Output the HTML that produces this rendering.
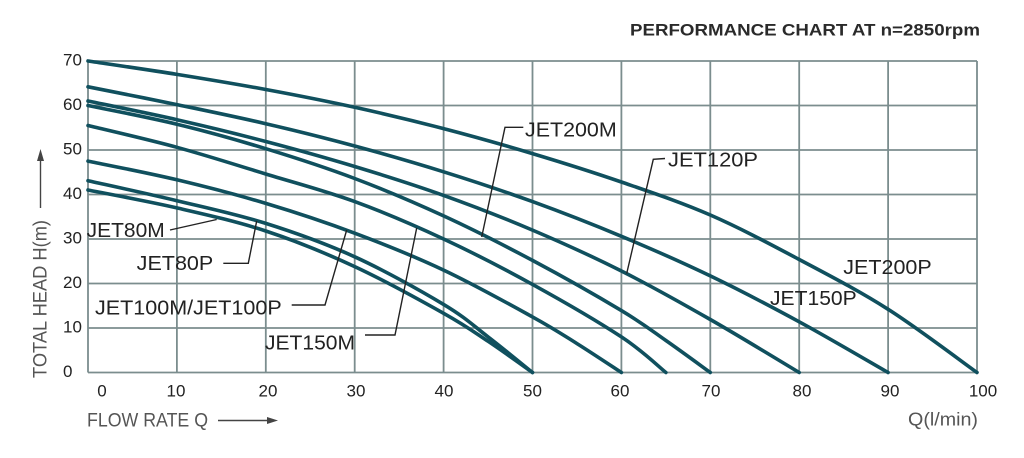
<!DOCTYPE html>
<html>
<head>
<meta charset="utf-8">
<style>
  html,body{margin:0;padding:0;background:#fff;}
  svg{display:block;}
  .t{font-family:"Liberation Sans",Arial,sans-serif;}
</style>
</head>
<body>
<svg id="chart" width="1024" height="458" viewBox="0 0 1024 458" xmlns="http://www.w3.org/2000/svg">
  <rect width="1024" height="458" fill="#fff"/>
  <!-- grid -->
  <g stroke="#7b8d8e" stroke-width="1.8" fill="none">
    <line x1="88" y1="61" x2="977" y2="61"/>
    <line x1="88" y1="105.5" x2="977" y2="105.5"/>
    <line x1="88" y1="150" x2="977" y2="150"/>
    <line x1="88" y1="194.5" x2="977" y2="194.5"/>
    <line x1="88" y1="239" x2="977" y2="239"/>
    <line x1="88" y1="283.5" x2="977" y2="283.5"/>
    <line x1="88" y1="328" x2="977" y2="328"/>
    <line x1="88" y1="372.5" x2="977" y2="372.5"/>
    <line x1="88" y1="61" x2="88" y2="372.5"/>
    <line x1="176.9" y1="61" x2="176.9" y2="372.5"/>
    <line x1="265.8" y1="61" x2="265.8" y2="372.5"/>
    <line x1="354.7" y1="61" x2="354.7" y2="372.5"/>
    <line x1="443.6" y1="61" x2="443.6" y2="372.5"/>
    <line x1="532.5" y1="61" x2="532.5" y2="372.5"/>
    <line x1="621.4" y1="61" x2="621.4" y2="372.5"/>
    <line x1="710.3" y1="61" x2="710.3" y2="372.5"/>
    <line x1="799.2" y1="61" x2="799.2" y2="372.5"/>
    <line x1="888.1" y1="61" x2="888.1" y2="372.5"/>
    <line x1="977" y1="61" x2="977" y2="372.5"/>
  </g>

  <!-- curves -->
  <g id="curves" stroke="#10505e" stroke-width="3.6" fill="none" stroke-linejoin="round" stroke-linecap="round">
    <!-- JET200P -->
    <polyline class="c" points="88,61 176.9,74.35 265.8,89.5 354.7,107.3 443.6,128.6 532.5,153.6 621.4,182 710.3,215 799.2,259.5 888.1,309.3 977,372.5"/>
    <!-- JET150P -->
    <polyline class="c" points="88,86.8 176.9,104.6 265.8,123.7 354.7,146 443.6,171.8 532.5,201.6 621.4,236.3 710.3,275.9 799.2,321.8 888.1,372.5"/>
    <!-- JET120P -->
    <polyline class="c" points="88,101 176.9,119.7 265.8,141.5 354.7,166.5 443.6,195.4 532.5,230.1 621.4,271 710.3,319.5 799.2,372.5"/>
    <!-- JET200M -->
    <polyline class="c" points="88,105.5 176.9,124.2 265.8,148.7 354.7,178.5 443.6,215.9 532.5,260.4 621.4,310.6 665.9,340.5 710.3,372.5"/>
    <!-- JET150M -->
    <polyline class="c" points="88,125.5 176.9,147.3 265.8,174 354.7,201.6 443.6,239 532.5,284.4 621.4,336.9 665.9,372.5"/>
    <!-- JET100M/P -->
    <polyline class="c" points="88,161.1 176.9,179.8 265.8,203.4 354.7,233.2 443.6,270.1 532.5,316.9 577,343.6 621.4,372.5"/>
    <!-- JET80P -->
    <polyline class="c" points="88,180.7 176.9,200.7 265.8,223.4 354.7,256.8 443.6,304.4 488.1,336.9 532.5,372.5"/>
    <!-- JET80M -->
    <polyline class="c" points="88,190 176.9,207.9 265.8,231 354.7,266.6 443.6,313.3 488.1,341.3 532.5,372.5"/>
  </g>

  <!-- leader lines -->
  <g stroke="#222" stroke-width="1.4" fill="none">
    <polyline points="170,230 216.7,219.5"/>
    <polyline points="223.3,263.3 248.3,263.3 256.7,221"/>
    <polyline points="291.7,305 325,305 346.7,230"/>
    <polyline points="365,335 395,335 416.7,228"/>
    <polyline points="523.3,127.3 505,127.3 481.7,237"/>
    <polyline points="665,158.5 653.3,159.3 626.7,273.5"/>
  </g>

  <!-- title -->
  <text class="t" x="630" y="35.5" font-size="17" font-weight="bold" fill="#2a2a2a" textLength="350" lengthAdjust="spacingAndGlyphs">PERFORMANCE CHART AT n=2850rpm</text>

  <!-- y ticks -->
  <g class="t" font-size="17" fill="#222">
    <text x="63" y="65.5">70</text>
    <text x="63" y="110">60</text>
    <text x="63" y="154.5">50</text>
    <text x="63" y="199">40</text>
    <text x="63" y="243.5">30</text>
    <text x="63" y="288">20</text>
    <text x="63" y="332.5">10</text>
    <text x="63" y="377">0</text>
  </g>

  <!-- x ticks -->
  <g class="t" font-size="17" fill="#222" text-anchor="middle">
    <text x="102" y="396.5">0</text>
    <text x="176" y="396.5">10</text>
    <text x="268" y="396.5">20</text>
    <text x="356" y="396.5">30</text>
    <text x="444" y="396.5">40</text>
    <text x="532.5" y="396.5">50</text>
    <text x="620" y="396.5">60</text>
    <text x="711" y="396.5">70</text>
    <text x="802" y="396.5">80</text>
    <text x="890" y="396.5">90</text>
    <text x="983" y="396.5">100</text>
  </g>

  <!-- axis titles -->
  <text class="t" x="87" y="426.5" font-size="19" fill="#555" textLength="121" lengthAdjust="spacingAndGlyphs">FLOW RATE Q</text>
  <line x1="218" y1="420.5" x2="269" y2="420.5" stroke="#444" stroke-width="1.4"/>
  <polygon points="278,420.5 267,417 267,424" fill="#444"/>
  <text class="t" x="908" y="425.5" font-size="18" fill="#555" textLength="70" lengthAdjust="spacingAndGlyphs">Q(l/min)</text>

  <text class="t" transform="translate(46.5,378) rotate(-90)" x="0" y="0" font-size="19" fill="#555" textLength="158" lengthAdjust="spacingAndGlyphs">TOTAL HEAD H(m)</text>
  <line x1="40.5" y1="160" x2="40.5" y2="208" stroke="#444" stroke-width="1.4"/>
  <polygon points="40.5,149 37,161 44,161" fill="#444"/>

  <!-- series labels -->
  <g class="t" font-size="20" fill="#222">
    <text x="86.7" y="237" textLength="78" lengthAdjust="spacingAndGlyphs">JET80M</text>
    <text x="136.7" y="270" textLength="76.6" lengthAdjust="spacingAndGlyphs">JET80P</text>
    <text x="95" y="314.5" textLength="186.7" lengthAdjust="spacingAndGlyphs">JET100M/JET100P</text>
    <text x="265" y="349.5" textLength="90" lengthAdjust="spacingAndGlyphs">JET150M</text>
    <text x="525" y="136.7" textLength="91.7" lengthAdjust="spacingAndGlyphs">JET200M</text>
    <text x="668" y="166.5" textLength="90" lengthAdjust="spacingAndGlyphs">JET120P</text>
    <text x="843.3" y="274" textLength="88.4" lengthAdjust="spacingAndGlyphs">JET200P</text>
    <text x="770" y="305" textLength="86.7" lengthAdjust="spacingAndGlyphs">JET150P</text>
  </g>
</svg>
<script>
(function(){
  var NS="http://www.w3.org/2000/svg";
  var pls=document.querySelectorAll("#curves polyline.c");
  for(var k=0;k<pls.length;k++){
    var pl=pls[k];
    var pts=pl.getAttribute("points").trim().split(/\s+/).map(function(p){return p.split(",").map(Number);});
    var d="M"+pts[0][0]+","+pts[0][1];
    for(var i=0;i<pts.length-1;i++){
      var p0=pts[i-1]||pts[i], p1=pts[i], p2=pts[i+1], p3=pts[i+2]||pts[i+1];
      var c1x=p1[0]+(p2[0]-p0[0])/6, c1y=p1[1]+(p2[1]-p0[1])/6;
      var c2x=p2[0]-(p3[0]-p1[0])/6, c2y=p2[1]-(p3[1]-p1[1])/6;
      d+=" C"+c1x.toFixed(2)+","+c1y.toFixed(2)+" "+c2x.toFixed(2)+","+c2y.toFixed(2)+" "+p2[0]+","+p2[1];
    }
    var path=document.createElementNS(NS,"path");
    path.setAttribute("d",d);
    pl.parentNode.replaceChild(path,pl);
  }
})();
</script>
</body>
</html>
